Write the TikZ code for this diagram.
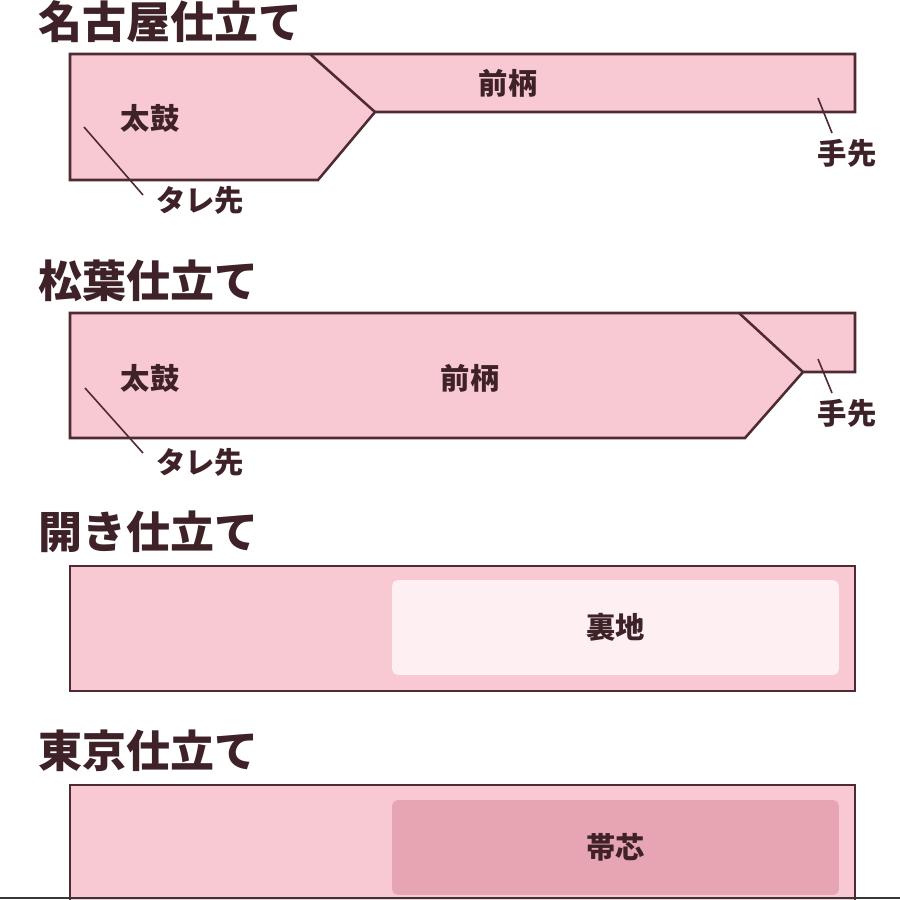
\documentclass[tikz,border=0pt]{standalone}
\usepackage{fontspec}
\newfontfamily\jp{Noto Sans CJK JP}

\definecolor{obipink}{RGB}{248,200,211}
\definecolor{obiline}{RGB}{78,42,50}
\definecolor{urajicol}{RGB}{253,239,242}
\definecolor{shincol}{RGB}{231,164,178}
\definecolor{inkbrown}{RGB}{62,34,40}

\tikzset{every picture/.style={line width=0.75pt}}
\tikzset{
  obititle/.style={anchor=west, inner sep=0.75pt, text=inkbrown, font=\jp\bfseries\fontsize{33}{33}\selectfont},
  partlbl/.style={inner sep=0.75pt, text=inkbrown, font=\jp\bfseries\fontsize{22}{22}\selectfont},
  obishape/.style={draw=obiline, fill=obipink, line width=1.9pt, line join=miter},
  leader/.style={draw=obiline, line width=1.2pt},
}

\begin{document}
\begin{tikzpicture}[x=0.75pt,y=0.75pt,yscale=-1,xscale=1]
\useasboundingbox (0,0) rectangle (900,900);

%Titles
\node[obititle] (nagoya) at (37,22) {名古屋仕立て};
\node[obititle] (matsuba) at (37,281) {松葉仕立て};
\node[obititle] (hiraki) at (37,532) {開き仕立て};
\node[obititle] (tokyo) at (37,751) {東京仕立て};

%Shape: Polygon (nagoya)
\draw[obishape] (70,54) -- (855,54) -- (855,112) -- (375,112) -- (318,180) -- (70,180) -- cycle;
%Straight Lines
\draw[obishape] (310,54) -- (375,112);

%Shape: Polygon (matsuba)
\draw[obishape] (70,313) -- (855,313) -- (855,372) -- (803,372) -- (745,438) -- (70,438) -- cycle;
%Straight Lines
\draw[obishape] (739,313) -- (803,372);

%Shape: Rectangle (hiraki)
\draw[obishape] (70,566) rectangle (855,691);
\node[fill=urajicol, rounded corners=4pt, minimum width=335pt, minimum height=71pt, inner sep=0pt,
      text=inkbrown, font=\jp\bfseries\fontsize{22}{22}\selectfont] (uraji) at (615.5,627.5) {裏地};

%Shape: Rectangle (tokyo), runs off the bottom
\fill[obipink] (70,785) rectangle (855,900);
\draw[obishape, fill=none] (70,900) -- (70,785) -- (855,785) -- (855,900);
\node[fill=shincol, rounded corners=4pt, minimum width=335pt, minimum height=71pt, inner sep=0pt,
      text=inkbrown, font=\jp\bfseries\fontsize{22}{22}\selectfont] (obishin) at (615.5,847.5) {帯芯};
%Straight Lines
\draw[color={rgb,255:red,55;green,55;blue,55}, line width=1.8pt] (0,898) -- (900,898);

% Text Node
\node[partlbl] (taiko1) at (150,118) {太鼓};
\node[partlbl] (maegara1) at (508,83) {前柄};
\node[partlbl] (tare1) at (200,200) {タレ先};
\node[partlbl] (tesaki1) at (847,153) {手先};
\node[partlbl] (taiko2) at (150,378) {太鼓};
\node[partlbl] (maegara2) at (470,378) {前柄};
\node[partlbl] (tare2) at (200,462) {タレ先};
\node[partlbl] (tesaki2) at (847,413) {手先};

%Leader lines
\coordinate (tarept1) at (84,127);
\coordinate (tareend1) at (143,195);
\coordinate (tesakipt1) at (818,98);
\coordinate (tesakiend1) at (832,133);
\coordinate (tarept2) at (85,388);
\coordinate (tareend2) at (143,453);
\coordinate (tesakipt2) at (818,359);
\coordinate (tesakiend2) at (832,393);
\draw[leader] (tarept1) -- (tareend1);
\draw[leader] (tesakipt1) -- (tesakiend1);
\draw[leader] (tarept2) -- (tareend2);
\draw[leader] (tesakipt2) -- (tesakiend2);

\end{tikzpicture}
\end{document}
